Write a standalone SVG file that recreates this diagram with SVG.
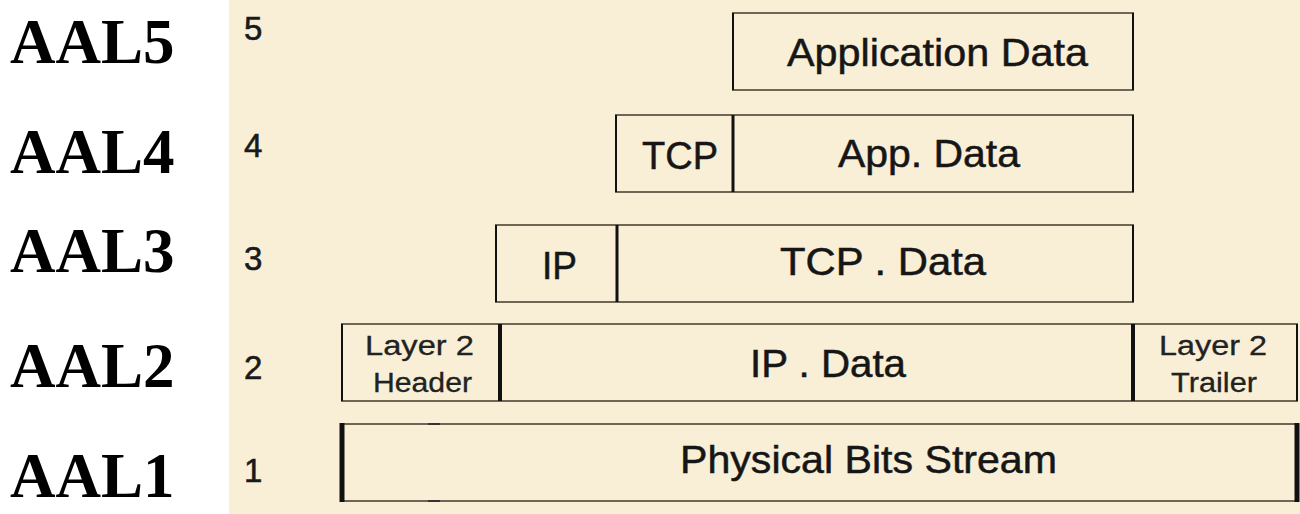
<svg xmlns="http://www.w3.org/2000/svg" width="1300" height="514" viewBox="0 0 1300 514">
  <style>
    .aal { font-family: "Liberation Serif", "Times New Roman", serif; font-weight: bold; font-size: 63px; fill: #000; }
    .num { font-family: "Liberation Sans", Arial, sans-serif; font-size: 33px; fill: #1a1a1a; stroke: #1a1a1a; stroke-width: 0.6; }
    .lbl { font-family: "Liberation Sans", Arial, sans-serif; font-size: 38px; fill: #161616; stroke: #161616; stroke-width: 0.5; }
    .sm { font-family: "Liberation Sans", Arial, sans-serif; font-size: 27px; fill: #222; stroke: #222; stroke-width: 0.3; }
    .box { fill: none; stroke: #6f6655; stroke-width: 2; }
    .sep { stroke: #111; stroke-width: 2; }
    .thick { stroke: #111; stroke-width: 4; }
  </style>
  <rect x="0" y="0" width="1300" height="514" fill="#ffffff"/>
  <rect x="229" y="0" width="1071" height="514" fill="#f8efd6"/>

  <g id="layer-labels">
    <text class="aal" x="10" y="63">AAL5</text>
    <text class="aal" x="10" y="173">AAL4</text>
    <text class="aal" x="10" y="272">AAL3</text>
    <text class="aal" x="10" y="387">AAL2</text>
    <text class="aal" x="10" y="497">AAL1</text>
  </g>

  <g id="layer-numbers">
    <text class="num" x="244" y="40">5</text>
    <text class="num" x="244" y="157">4</text>
    <text class="num" x="244" y="270">3</text>
    <text class="num" x="244" y="379">2</text>
    <text class="num" x="244" y="482">1</text>
  </g>

  <g id="row5">
    <rect class="box" x="733" y="13" width="400" height="77"/>
    <line class="sep" x1="733" y1="13" x2="733" y2="90"/>
    <line class="sep" x1="1133" y1="13" x2="1133" y2="90"/>
    <text class="lbl" x="787" y="66" textLength="301" lengthAdjust="spacingAndGlyphs">Application Data</text>
  </g>

  <g id="row4">
    <rect class="box" x="616" y="115" width="517" height="77"/>
    <line class="sep" x1="616" y1="115" x2="616" y2="192"/>
    <line class="thick" x1="733" y1="115" x2="733" y2="192" style="stroke-width:3"/>
    <line class="sep" x1="1133" y1="115" x2="1133" y2="192"/>
    <text class="lbl" x="642" y="169" textLength="76" lengthAdjust="spacingAndGlyphs">TCP</text>
    <text class="lbl" x="838" y="167" textLength="182" lengthAdjust="spacingAndGlyphs">App. Data</text>
  </g>

  <g id="row3">
    <rect class="box" x="496" y="225" width="637" height="77"/>
    <line class="sep" x1="496" y1="225" x2="496" y2="302"/>
    <line class="thick" x1="617" y1="225" x2="617" y2="302" style="stroke-width:3"/>
    <line class="sep" x1="1133" y1="225" x2="1133" y2="302"/>
    <text class="lbl" x="542" y="279" textLength="35" lengthAdjust="spacingAndGlyphs">IP</text>
    <text class="lbl" x="780" y="275" textLength="206" lengthAdjust="spacingAndGlyphs">TCP . Data</text>
  </g>

  <g id="row2">
    <rect class="box" x="342" y="324" width="955" height="77"/>
    <line class="sep" x1="342" y1="324" x2="342" y2="401"/>
    <line class="thick" x1="500" y1="324" x2="500" y2="401"/>
    <line class="thick" x1="1133" y1="324" x2="1133" y2="401"/>
    <line class="sep" x1="1297" y1="324" x2="1297" y2="401"/>
    <text class="sm" x="365" y="355" textLength="109" lengthAdjust="spacingAndGlyphs">Layer 2</text>
    <text class="sm" x="373" y="392" textLength="99" lengthAdjust="spacingAndGlyphs">Header</text>
    <text class="lbl" x="750" y="377" textLength="156" lengthAdjust="spacingAndGlyphs">IP . Data</text>
    <text class="sm" x="1159" y="355" textLength="108" lengthAdjust="spacingAndGlyphs">Layer 2</text>
    <text class="sm" x="1171" y="392" textLength="86" lengthAdjust="spacingAndGlyphs">Trailer</text>
  </g>

  <g id="row1">
    <rect class="box" x="342" y="424" width="955" height="77"/>
    <line class="thick" x1="342" y1="423" x2="342" y2="502" style="stroke-width:5"/>
    <line class="thick" x1="1297" y1="423" x2="1297" y2="502" style="stroke-width:5"/>
    <line x1="428" y1="424" x2="440" y2="424" stroke="#333" stroke-width="2"/>
    <line x1="428" y1="501" x2="440" y2="501" stroke="#333" stroke-width="2"/>
    <text class="lbl" x="680" y="473" textLength="377" lengthAdjust="spacingAndGlyphs">Physical Bits Stream</text>
  </g>
</svg>
